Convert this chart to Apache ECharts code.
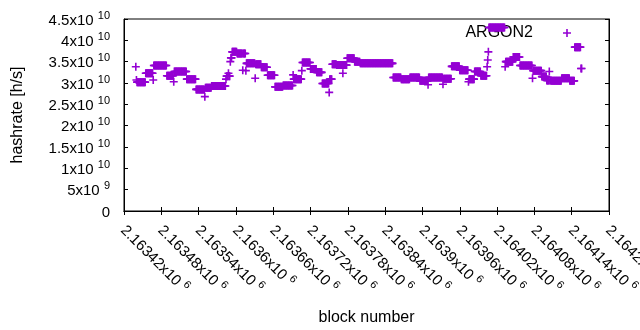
<!DOCTYPE html>
<html>
<head>
<meta charset="utf-8">
<script src="https://cdn.jsdelivr.net/npm/echarts@6/dist/echarts.min.js"></script>
<style>
html,body{margin:0;padding:0;background:#fff;}
#chart{width:640px;height:330px;}
</style>
</head>
<body>
<div id="chart"></div>
<script>
// runs of consecutive blocks that report the same hashrate
// (first block, last block, hashrate in 1e9 h/s)
var runFirst = [2163439,2163440,2163441,2163455,2163467,2163468,2163489,2163500,2163501,2163521,
	2163536,2163550,2163551,2163561,2163584,2163585,2163588,2163589,2163591,2163592,
	2163594,2163602,2163611,2163612,2163616,2163617,2163631,2163632,2163641,2163651,
	2163663,2163676,2163692,2163693,2163706,2163707,2163720,2163730,2163739,2163750,
	2163751,2163755,2163762,2163772,2163773,2163779,2163791,2163800,2163853,2163866,
	2163880,2163896,2163909,2163910,2163933,2163934,2163947,2163960,2163974,2163975,
	2163984,2163994,2164004,2164005,2164006,2164007,2164033,2164034,2164046,2164057,
	2164077,2164078,2164092,2164100,2164104,2164105,2164108,2164124,2164137,2164145,
	2164155];
var runLast = [2163439,2163440,2163454,2163466,2163467,2163488,2163499,2163500,2163520,2163535,
	2163549,2163550,2163560,2163583,2163584,2163587,2163588,2163590,2163591,2163593,
	2163601,2163610,2163611,2163615,2163616,2163630,2163631,2163640,2163650,2163662,
	2163675,2163691,2163692,2163705,2163706,2163719,2163729,2163738,2163749,2163750,
	2163754,2163761,2163771,2163772,2163778,2163790,2163799,2163852,2163865,2163879,
	2163895,2163908,2163909,2163932,2163933,2163946,2163959,2163973,2163974,2163983,
	2163993,2164003,2164004,2164005,2164006,2164032,2164033,2164045,2164056,2164076,
	2164077,2164091,2164099,2164103,2164104,2164107,2164123,2164136,2164144,2164154,
	2164156];
var runRate = [33.8,30.7,30.2,32.3,30.7,34.1,31.7,30.3,32.7,30.9,
	28.5,26.8,28.9,29.3,30.9,31.6,32.3,31.6,35.0,35.9,
	37.3,36.9,33.0,36.9,32.9,34.6,31.1,34.4,33.7,31.8,
	29.1,29.4,31.9,30.9,32.9,34.8,33.3,32.5,29.9,27.8,
	30.9,34.4,34.2,32.3,34.2,35.8,35.0,34.6,31.3,30.9,
	31.3,30.5,29.6,31.3,29.7,31.0,33.9,33.0,30.3,30.9,
	32.7,31.7,33.8,35.4,37.3,43.0,33.8,35.0,36.1,34.1,
	31.1,32.9,31.5,30.6,32.7,30.6,30.5,31.1,30.5,38.4,
	33.4];

var xMin = 2163420, xMax = 2164200, xStep = 60;
var yTicks = [0, 5e9, 1e10, 1.5e10, 2e10, 2.5e10, 3e10, 3.5e10, 4e10, 4.5e10];

var points = [];
for (var i = 0; i < runFirst.length; i++) {
	for (var b = runFirst[i]; b <= runLast[i]; b++) {
		points.push([b, runRate[i] * 1e9]);
	}
}

var purple = '#9400d3';
var plus = 'path://M3.2,0H4.8V3.2H8V4.8H4.8V8H3.2V4.8H0V3.2H3.2Z';
var font = 'Liberation Sans';

function sciLabel(v) {
	if (v === 0) return '{m|0}';
	var e = Math.floor(Math.log10(v) + 1e-9);
	var m = parseFloat((v / Math.pow(10, e)).toFixed(3));
	return '{m|' + m + 'x10 }{s|' + e + '}';
}
var richSup = {
	m: {fontSize: 15, fontFamily: font, color: '#000', lineHeight: 18, verticalAlign: 'bottom'},
	s: {fontSize: 11, fontFamily: font, color: '#000', lineHeight: 14, verticalAlign: 'top'}
};

var myChart = echarts.init(document.getElementById('chart'));
var option = {
	animation: false,
	backgroundColor: '#fff',
	grid: {left: 124, right: 31, top: 19, bottom: 119, outerBoundsMode: 'none', containLabel: false,
		show: true, borderColor: '#000', borderWidth: 1},
	legend: {
		data: [{name: 'ARGON2', icon: plus}],
		right: 64, top: 20,
		align: 'right',
		itemWidth: 8, itemHeight: 8,
		textStyle: {fontSize: 16, fontFamily: font, color: '#000', padding: [0, 25, 0, 0]}
	},
	xAxis: [{
		type: 'value', min: xMin, max: xMax, interval: xStep,
		name: 'block number', nameLocation: 'middle', nameGap: 99,
		nameTextStyle: {fontSize: 16, fontFamily: font, color: '#000'},
		axisLine: {lineStyle: {color: '#000'}},
		axisTick: {inside: true, length: 4, lineStyle: {color: '#000'}},
		splitLine: {show: false},
		axisLabel: {
			rotate: -45, margin: 16, showMaxLabel: true, hideOverlap: false,
			formatter: function (v) { return '{m|' + parseFloat((v / 1e6).toFixed(5)) + 'x10 }{s|6}'; },
			rich: richSup
		}
	}, {
		type: 'value', position: 'top', min: xMin, max: xMax, interval: xStep,
		axisLine: {lineStyle: {color: '#000'}},
		axisTick: {inside: true, length: 4, lineStyle: {color: '#000'}},
		axisLabel: {show: false}, splitLine: {show: false}
	}],
	yAxis: [{
		type: 'value', min: 0, max: yTicks[yTicks.length - 1], interval: yTicks[1],
		name: 'hashrate [h/s]', nameLocation: 'middle', nameGap: 98,
		nameTextStyle: {fontSize: 16, fontFamily: font, color: '#000'},
		axisLine: {show: true, lineStyle: {color: '#000'}},
		axisTick: {show: true, inside: true, length: 4, lineStyle: {color: '#000'}},
		splitLine: {show: false},
		axisLabel: {margin: 14, formatter: sciLabel, rich: richSup}
	}, {
		type: 'value', position: 'right', min: 0, max: yTicks[yTicks.length - 1], interval: yTicks[1],
		axisLine: {show: true, lineStyle: {color: '#000'}},
		axisTick: {show: true, inside: true, length: 4, lineStyle: {color: '#000'}},
		axisLabel: {show: false}, splitLine: {show: false}
	}],
	series: [{
		name: 'ARGON2',
		type: 'scatter',
		symbol: plus,
		symbolSize: 8,
		z: 5,
		itemStyle: {color: purple, opacity: 1},
		data: points
	}]
};
option && myChart.setOption(option);
</script>
</body>
</html>
